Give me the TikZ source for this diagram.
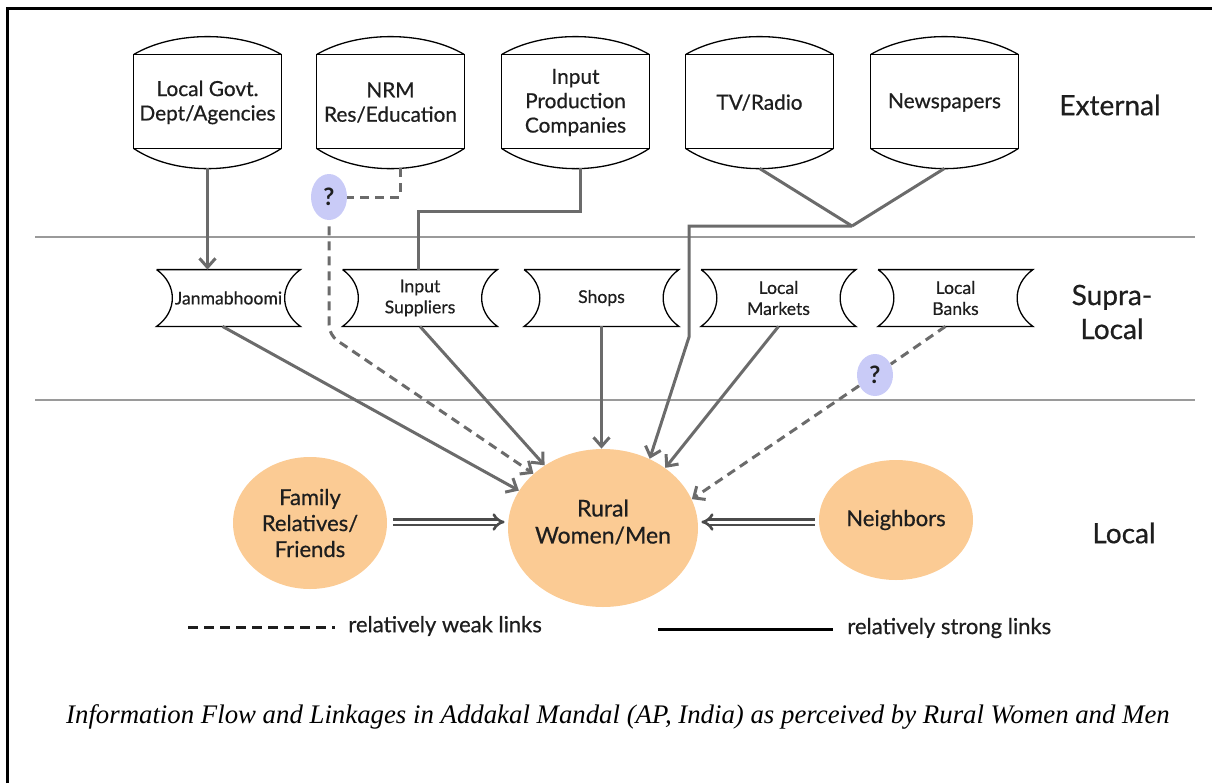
\documentclass[tikz,border=0pt]{standalone}
\usepackage{fontspec}
\setmainfont{Lato}[UprightFeatures={FakeBold=0.6}]
\newfontfamily\capfont{Liberation Serif}
\usetikzlibrary{arrows.meta,shapes.geometric,calc}

\definecolor{linkgray}{HTML}{6B6B6B}
\definecolor{rulegray}{HTML}{9A9A9A}
\definecolor{peach}{HTML}{FBCB94}
\definecolor{lilac}{HTML}{C9CBF7}
\definecolor{ink}{HTML}{1E1E1E}

\begin{document}
\begin{tikzpicture}[x=0.5pt,y=-0.5pt,
  ext/.style={minimum width=73.5pt,minimum height=65.5pt,inner sep=0pt,align=center,
    font=\fontsize{10.4}{12.2}\selectfont,text=ink},
  supra/.style={minimum width=77pt,minimum height=28pt,inner sep=0pt,align=center,
    font=\fontsize{8.8}{10.5}\selectfont,text=ink},
  boxline/.style={draw=black,line width=0.65pt},
  blob/.style={ellipse,fill=peach,inner sep=0pt,align=center,text=ink},
  query/.style={ellipse,fill=lilac,minimum width=18pt,minimum height=23pt,inner sep=0pt,
    font=\fontsize{12}{12}\selectfont\bfseries,text=ink},
  link/.style={draw=linkgray,line width=1.5pt},
  weak/.style={link,dash pattern=on 4.5pt off 3pt},
  tip/.style={-{Straight Barb[length=4.5pt,width=8pt]}},
  band/.style={draw=rulegray,line width=0.9pt},
  tier/.style={font=\fontsize{14}{17}\selectfont,text=ink,align=center},
  twin/.style={draw=ink!80,double=white,double distance=1.5pt,line width=1.3pt,-{Implies}},
  legendtext/.style={anchor=west,inner sep=0pt,font=\fontsize{11}{13}\selectfont,text=ink}
]
\useasboundingbox (0,0) rectangle (1212,783);

% page frame (left and top edges)
\draw[line width=1.5pt] (7,783) -- (7,8) -- (1212,8);

% tier separators
\draw[band] (35,237) -- (1195,237);
\draw[band] (35,400) -- (1195,400);

% external sources
\node[ext] (lg)  at (207.5,102.5) {Local Govt.\\Dept/Agencies};
\node[ext] (nrm) at (390.5,102.5) {NRM\\Res/Education};
\node[ext] (ipc) at (575.5,102.5) {Input\\Production\\Companies};
\node[ext] (tv)  at (759.5,102.5) {TV/Radio};
\node[ext] (np)  at (944.5,102.5) {Newspapers};
\foreach \n in {lg,nrm,ipc,tv,np}{
  \draw[boxline] ($(\n.north west)+(0,18)$) -- ($(\n.south west)+(0,-20)$)
    -- ($(\n.south east)+(0,-20)$) -- ($(\n.north east)+(0,18)$) -- cycle;
  \draw[boxline] ($(\n.north west)+(0,18)$) .. controls +(40,-24) and +(-40,-24) .. ($(\n.north east)+(0,18)$);
  \draw[boxline] ($(\n.south west)+(0,-20)$) .. controls +(40,27) and +(-40,27) .. ($(\n.south east)+(0,-20)$);
}

% supra-local intermediaries
\node[supra,minimum width=71.5pt] (jan) at (228.5,298) {Janmabhoomi};
\node[supra] (isup)  at (420,298)   {Input\\Suppliers};
\node[supra] (shop)  at (601.5,298) {Shops};
\node[supra] (lmkt)  at (778.5,298) {Local\\Markets};
\node[supra] (lbank) at (955.5,298) {Local\\Banks};
\foreach \n in {jan,isup,shop,lmkt,lbank}{
  \draw[boxline] (\n.north west) -- (\n.north east)
    .. controls +(-21,15) and +(-21,-15) .. (\n.south east) -- (\n.south west)
    .. controls +(21,-15) and +(21,15) .. (\n.north west);
}

% local actors
\node[blob,minimum width=95pt,minimum height=79pt] (rural) at (603,528) {};
\node[align=center,inner sep=0pt,text=ink,font=\fontsize{11.5}{13.5}\selectfont] (ruraltxt)
  at ($(rural.center)+(0,-6)$) {Rural\\Women/Men};
\node[blob,minimum width=77pt,minimum height=66pt,font=\fontsize{11}{13}\selectfont] (fam) at (310,523) {Family\\Relatives/\\Friends};
\node[blob,minimum width=77pt,minimum height=60pt,font=\fontsize{11}{13}\selectfont] (nb) at (896,520) {Neighbors};

% uncertain links
\node[query] (q1) at (329,197) {?};
\node[query,minimum height=21pt] (q2) at (875,375) {?};

% bend points
\coordinate (qbend) at (329,335);
\coordinate (tvj) at (852,226);
\coordinate (tvb) at (689,337);

% links
\draw[link,tip] (lg.south) -- (lg.south |- jan.north);
\draw[weak] ($(nrm.south)+(9.5,0)$) |- (q1.east);
\draw[weak,tip,rounded corners=5pt] ($(q1.south)+(0,6)$) -- (qbend) -- (rural.142);
\draw[link] ($(ipc.south)+(4.5,0)$) -- ++(0,43) -| ($(isup.north)+(-2,0)$);
\draw[link] (tv.south) -- (tvj);
\draw[link] (np.south) -- (tvj);
\draw[link,tip] (tvj) -| (tvb) -- (rural.56);
\draw[link,tip] ($(jan.south)+(-6,0)$) -- (rural.156);
\draw[link,tip] (isup.south) -- (rural.133);
\draw[link,tip] (shop.south) -- (shop.south |- rural.north);
\draw[link,tip] (lmkt.south) -- (rural.44);
\draw[weak] ($(lbank.south)+(-10,0)$) -- (q2);
\draw[weak,tip] (q2) -- (rural.18);
\draw[twin] ($(fam.east)+(6,-1)$) -- ($(fam.east -| rural.west)+(-3,-1)$);
\draw[twin] ($(nb.west)+(-4,2)$) -- ($(nb.west -| rural.east)+(3,2)$);

% tier labels
\node[tier] (extl) at (1110,105) {External};
\node[tier] (supl) at (1112,312) {Supra-\\Local};
\node[tier] (locl) at (1124,533) {Local};

% legend
\node[legendtext] (weaklbl) at (348,626) {relatively weak links};
\node[legendtext] (stronglbl) at (847,628) {relatively strong links};
\coordinate (weakstart) at (188,627);
\coordinate (strongstart) at (658,629);
\draw[draw=ink,line width=1.5pt,dash pattern=on 5pt off 3pt] (weakstart) -- ($(weaklbl.west)+(-13,1)$);
\draw[draw=black,line width=1.5pt] (strongstart) -- ($(stronglbl.west)+(-14,1)$);

% caption
\node[font=\capfont\itshape\fontsize{13.4}{16}\selectfont,text=black] (cap) at (618,717)
  {Information Flow and Linkages in Addakal Mandal (AP, India) as perceived by Rural Women and Men};
\end{tikzpicture}
\end{document}
